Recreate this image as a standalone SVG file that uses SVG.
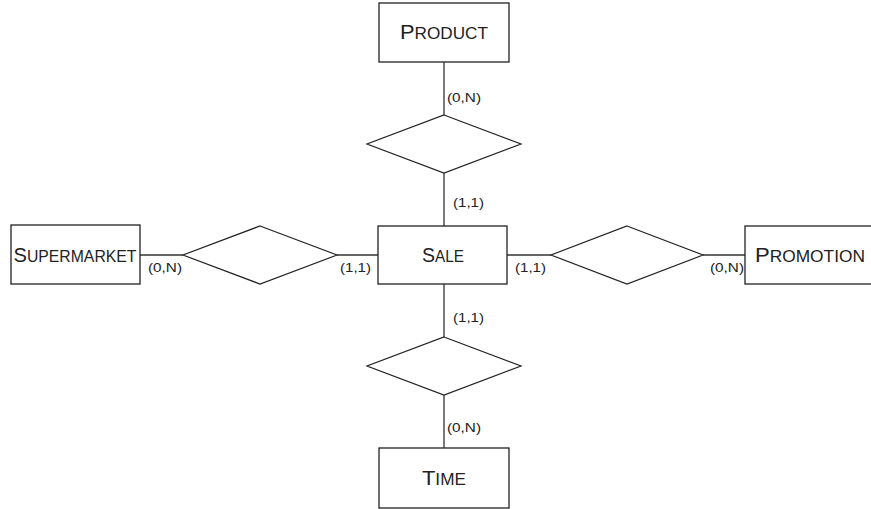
<svg xmlns="http://www.w3.org/2000/svg" width="871" height="509" viewBox="0 0 871 509">
<style>
.box{fill:#fff;stroke:#222;stroke-width:1.3}
.dia{fill:#fff;stroke:#222;stroke-width:1.2}
.ln{stroke:#333;stroke-width:1.3;fill:none}
.t{font-family:"Liberation Sans",Arial,sans-serif;fill:#222}
.big{font-size:21px}
.sm{font-size:16.5px}
.lab{font-family:"Liberation Sans",Arial,sans-serif;font-size:13.5px;fill:#222}
</style>
<rect width="871" height="509" fill="#fff"/>
<g id="connectors">
<line class="ln" x1="444" y1="62" x2="444" y2="115"/>
<line class="ln" x1="444" y1="173" x2="444" y2="226"/>
<line class="ln" x1="444" y1="284" x2="444" y2="337"/>
<line class="ln" x1="444" y1="395" x2="444" y2="448"/>
<line class="ln" x1="140" y1="255" x2="183" y2="255"/>
<line class="ln" x1="337" y1="255" x2="378" y2="255"/>
<line class="ln" x1="507" y1="255" x2="551" y2="255"/>
<line class="ln" x1="703" y1="255" x2="745" y2="255"/>
<text class="lab" x="447" y="102" textLength="34" lengthAdjust="spacingAndGlyphs">(0,N)</text>
<text class="lab" x="453" y="207" textLength="31" lengthAdjust="spacingAndGlyphs">(1,1)</text>
<text class="lab" x="453" y="322" textLength="31" lengthAdjust="spacingAndGlyphs">(1,1)</text>
<text class="lab" x="447" y="432" textLength="34" lengthAdjust="spacingAndGlyphs">(0,N)</text>
<text class="lab" x="148" y="272" textLength="34" lengthAdjust="spacingAndGlyphs">(0,N)</text>
<text class="lab" x="340" y="272" textLength="31" lengthAdjust="spacingAndGlyphs">(1,1)</text>
<text class="lab" x="515" y="272" textLength="31" lengthAdjust="spacingAndGlyphs">(1,1)</text>
<text class="lab" x="710" y="272" textLength="34" lengthAdjust="spacingAndGlyphs">(0,N)</text>
</g>
<g id="product">
<rect class="box" x="379" y="3" width="130" height="59"/>
<text class="t" x="444" y="39" text-anchor="middle" textLength="88" lengthAdjust="spacingAndGlyphs"><tspan class="big">P</tspan><tspan class="sm">RODUCT</tspan></text>
</g>
<g id="sale">
<rect class="box" x="378" y="226" width="129" height="58"/>
<text class="t" x="443" y="262" text-anchor="middle" textLength="42" lengthAdjust="spacingAndGlyphs"><tspan class="big">S</tspan><tspan class="sm">ALE</tspan></text>
</g>
<g id="supermarket">
<rect class="box" x="11" y="225" width="129" height="59"/>
<text class="t" x="75" y="262" text-anchor="middle" textLength="123" lengthAdjust="spacingAndGlyphs"><tspan class="big">S</tspan><tspan class="sm">UPERMARKET</tspan></text>
</g>
<g id="promotion">
<rect class="box" x="745" y="226" width="130" height="58"/>
<text class="t" x="810" y="262" text-anchor="middle" textLength="110" lengthAdjust="spacingAndGlyphs"><tspan class="big">P</tspan><tspan class="sm">ROMOTION</tspan></text>
</g>
<g id="time">
<rect class="box" x="379" y="448" width="130" height="60"/>
<text class="t" x="444" y="485" text-anchor="middle" textLength="44" lengthAdjust="spacingAndGlyphs"><tspan class="big">T</tspan><tspan class="sm">IME</tspan></text>
</g>
<g id="rel-product-sale">
<polygon class="dia" points="444,115 521,144 444,173 367,144"/>
</g>
<g id="rel-sale-time">
<polygon class="dia" points="444,337 521,366 444,395 367,366"/>
</g>
<g id="rel-supermarket-sale">
<polygon class="dia" points="260,226 337,255 260,284 183,255"/>
</g>
<g id="rel-sale-promotion">
<polygon class="dia" points="627,226 703,255 627,284 551,255"/>
</g>
</svg>
